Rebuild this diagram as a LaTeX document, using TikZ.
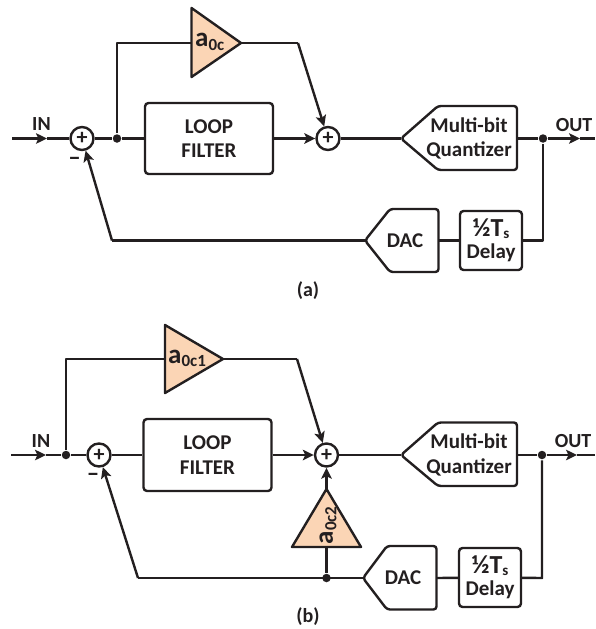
\documentclass[tikz,border=0pt]{standalone}
\usepackage{fontspec}
\setmainfont{Carlito}
\usetikzlibrary{arrows.meta}
\definecolor{ink}{HTML}{231F20}
\definecolor{peach}{HTML}{FBD5B5}
\newcommand{\fs}[1]{\fontsize{#1}{24.5}\selectfont\bfseries}
\tikzset{
  x=1pt,y=-1pt,
  every path/.style={line width=2.4pt,line join=round},
  wire/.style={draw=ink},
  arrowwire/.style={draw=ink,-{Stealth[length=11pt,width=10.5pt,inset=2.5pt]}},
  sumnode/.style={circle,draw=ink,fill=white,minimum size=23pt,inner sep=0pt,font=\fs{22},text=ink},
  dotnode/.style={circle,fill=ink,draw=none,minimum size=8.5pt,inner sep=0pt},
  blockbox/.style={rectangle,rounded corners=3.5pt,draw=ink,fill=white,inner sep=0pt,align=center,text=ink,font=\fs{21}},
  lbl/.style={draw=none,inner sep=0pt,text=ink,font=\fs{20},align=center},
  minuslbl/.style={draw=none,inner sep=0pt,text=ink,font=\fs{25}},
  amp/.style={draw=ink,fill=peach},
  conv/.style={draw=ink,fill=white,rounded corners=3pt},
}
\begin{document}
\begin{tikzpicture}
\useasboundingbox (0,0) rectangle (595,629);
% ---------- panel (a)
\coordinate (ain) at (12,138.5);
\coordinate (aim) at (47,138.5);
\node[sumnode] (as1) at (82,138.5) {+};
\node[dotnode] (aj1) at (117,138.5) {};
\node[blockbox,minimum width=128pt,minimum height=71pt] (afil) at (209,138.5) {LOOP\\FILTER};
\node[sumnode] (as2) at (328,138.5) {+};
\coordinate (atip) at (401,138.5);
\coordinate (aqr) at (517,138.5);
\draw[conv] (atip) -- (438,106) -- (517,106) -- (517,170) -- (438,170) -- cycle;
\node[lbl,font=\fs{21}] (aqt) at (469,138.5) {Multi-bit\\Quantizer};
\node[dotnode] (aj2) at (543,138.5) {};
\coordinate (aom) at (580,138.5);
\coordinate (aout) at (595,138.5);
\node[blockbox,minimum width=62pt,minimum height=59pt] (adel) at (491,240.5) {{\fs{26}½T\raisebox{-2pt}{\fs{15}s}}\\[-2pt]Delay};
\coordinate (adt) at (365,240.5);
\coordinate (adr) at (438.5,240.5);
\draw[conv] (adt) -- (390,209) -- (438.5,209) -- (438.5,272) -- (390,272) -- cycle;
\node[lbl,font=\fs{21}] (adl) at (405,240.5) {DAC};
\coordinate (acl) at (117,43);
\coordinate (ata) at (191.5,43);
\coordinate (atb) at (241,43);
\coordinate (aru) at (298,43);
\coordinate (afb) at (112,240.5);
\coordinate (acr) at (543,240.5);
\draw[amp] (191.5,8) -- (atb) -- (191.5,77) -- cycle;
\node[lbl,anchor=west] (aamp) at (194,42) {{\fs{27}a}{\fs{17}\raisebox{-3.5pt}{0c}}};
\draw[arrowwire] (ain) -- (aim);
\draw[wire] (aim) -- (as1);
\draw[wire] (as1) -- (aj1);
\draw[wire] (aj1) -- (afil);
\draw[wire] (aj1) -- (acl) -- (ata);
\draw[wire] (atb) -- (aru);
\draw[arrowwire] (aru) -- (as2);
\draw[arrowwire] (afil) -- (as2);
\draw[wire] (as2) -- (atip);
\draw[wire] (aqr) -- (aj2);
\draw[arrowwire] (aj2) -- (aom);
\draw[wire] (aom) -- (aout);
\draw[wire] (aj2) -- (acr) -- (adel);
\draw[wire] (adel) -- (adr);
\draw[wire] (adt) -- (afb);
\draw[arrowwire] (afb) -- (as1);
\node[lbl] (ainl) at (41.5,124) {IN};
\node[lbl] (aoutl) at (574,125) {OUT};
\node[minuslbl] (amin) at (74.5,161.5) {–};
\node[lbl,font=\fs{20}] (acap) at (308,291) {(a)};
% ---------- panel (b)
\coordinate (bin) at (11,455);
\coordinate (bim) at (46,455);
\node[dotnode] (bj1) at (66,455) {};
\node[sumnode] (bs1) at (99,455) {+};
\node[blockbox,minimum width=128pt,minimum height=72pt] (bfil) at (207.5,455) {LOOP\\FILTER};
\node[sumnode] (bs2) at (326.5,455) {+};
\coordinate (btip) at (401,455);
\coordinate (bqr) at (517,455);
\draw[conv] (btip) -- (438,422.5) -- (517,422.5) -- (517,486) -- (438,486) -- cycle;
\node[lbl,font=\fs{21}] (bqt) at (469,455) {Multi-bit\\Quantizer};
\node[dotnode] (bj2) at (542,455) {};
\coordinate (bom) at (577,455);
\coordinate (bout) at (595,455);
\node[blockbox,minimum width=62pt,minimum height=59pt] (bdel) at (490,577.5) {{\fs{26}½T\raisebox{-2pt}{\fs{15}s}}\\[-2pt]Delay};
\coordinate (bdt) at (363,578);
\coordinate (bdr) at (436.5,578);
\draw[conv] (bdt) -- (387,546) -- (436.5,546) -- (436.5,609.5) -- (387,609.5) -- cycle;
\node[lbl,font=\fs{21}] (bdl) at (403,578) {DAC};
\coordinate (bcl) at (66,359);
\coordinate (bta) at (165,359);
\coordinate (btb) at (223,359);
\coordinate (bru) at (297,359);
\coordinate (bfb) at (138,578);
\coordinate (bcr) at (542,578);
\draw[amp] (165,325) -- (btb) -- (165,393) -- cycle;
\node[lbl,anchor=west] (bamp) at (167,358.5) {{\fs{27}a}{\fs{17}\raisebox{-3.5pt}{0c1}}};
\coordinate (ctip) at (326.5,489);
\coordinate (cbase) at (326.5,547);
\draw[amp] (292,547) -- (ctip) -- (361,547) -- cycle;
\node[lbl,rotate=90,anchor=west] (camp) at (328,545.5) {{\fs{27}a}{\fs{17}\raisebox{-3.5pt}{0c2}}};
\node[dotnode] (bj3) at (326.5,578) {};
\draw[arrowwire] (bin) -- (bim);
\draw[wire] (bim) -- (bj1);
\draw[wire] (bj1) -- (bs1);
\draw[wire] (bs1) -- (bfil);
\draw[wire] (bj1) -- (bcl) -- (bta);
\draw[wire] (btb) -- (bru);
\draw[arrowwire] (bru) -- (bs2);
\draw[arrowwire] (bfil) -- (bs2);
\draw[wire] (bs2) -- (btip);
\draw[wire] (bqr) -- (bj2);
\draw[arrowwire] (bj2) -- (bom);
\draw[wire] (bom) -- (bout);
\draw[wire] (bj2) -- (bcr) -- (bdel);
\draw[wire] (bdel) -- (bdr);
\draw[wire] (bdt) -- (bfb);
\draw[arrowwire] (bfb) -- (bs1);
\draw[wire] (bj3) -- (cbase);
\draw[arrowwire] (ctip) -- (bs2);
\node[lbl] (binl) at (41,441) {IN};
\node[lbl] (boutl) at (573,441) {OUT};
\node[minuslbl] (bmin) at (93,477) {–};
\node[lbl,font=\fs{20}] (bcap) at (308,617) {(b)};
\end{tikzpicture}
\end{document}
